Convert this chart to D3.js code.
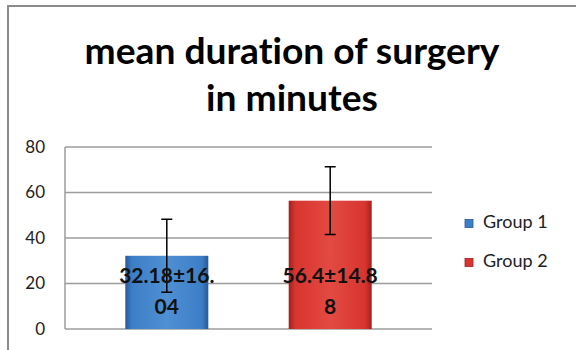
<!DOCTYPE html>
<html>
<head>
<meta charset="utf-8">
<script src="https://cdn.jsdelivr.net/npm/d3@7"></script>
<style>
  body { margin: 0; background: #fff; }
  text { font-family: Lato, "Open Sans", sans-serif; font-variant-ligatures: none; }
</style>
</head>
<body>
<div id="chart"></div>
<script>
const groups = ["Group 1", "Group 2"];
const means = [32.18, 56.4];
const sds = [16.04, 14.88];
const labels = ["32.18±16.04", "56.4±14.88"];
const yTicks = [0, 20, 40, 60, 80];
const titleLines = ["mean duration of surgery", "in minutes"];

let width = 576,
  height = 350,
  margin = ({ top: 147, right: 144, bottom: 21, left: 65 });

const colors = [
  { dark: "#29599a", mid: "#3d7fc6", light: "#4f8fd3" },
  { dark: "#a1211d", mid: "#d8352f", light: "#e24a42" }
];

let x = d3.scaleBand()
  .domain(groups)
  .range([margin.left, width - margin.right])
  .paddingInner(0.492)
  .paddingOuter(0.369);

let y = d3.scaleLinear()
  .domain([0, 80])
  .range([height - margin.bottom, margin.top]);

const svg = d3.select("#chart")
  .append("svg")
  .attr("width", width)
  .attr("height", height)
  .attr("viewBox", [0, 0, width, height]);

// gradients for the bevelled bars
const defs = svg.append("defs");
colors.forEach((c, i) => {
  const g = defs.append("linearGradient")
    .attr("id", "bar" + i)
    .attr("x1", 0).attr("x2", 1).attr("y1", 0).attr("y2", 0);
  g.append("stop").attr("offset", "0%").attr("stop-color", c.dark);
  g.append("stop").attr("offset", "8%").attr("stop-color", c.mid);
  g.append("stop").attr("offset", "50%").attr("stop-color", c.light);
  g.append("stop").attr("offset", "92%").attr("stop-color", c.mid);
  g.append("stop").attr("offset", "100%").attr("stop-color", c.dark);
});

// outer chart frame
svg.append("path")
  .attr("d", `M8,${height}V6H${width}`)
  .attr("fill", "none")
  .attr("stroke", "#8c8c8c")
  .attr("stroke-width", 2);

// title
const title = svg.append("g");
titleLines.forEach((t, i) => {
  title.append("text")
    .attr("x", 292)
    .attr("y", 64 + i * 47)
    .attr("text-anchor", "middle")
    .attr("font-weight", "bold")
    .attr("font-size", 34)
    .attr("fill", "#000")
    .text(t);
});
// fit first title line to the reference width
const t0 = title.select("text").node();
const fs = 34 * 415 / t0.getComputedTextLength();
title.selectAll("text").attr("font-size", fs);

// gridlines
svg.append("g")
  .selectAll("line")
  .data(yTicks)
  .join("line")
  .attr("x1", margin.left)
  .attr("x2", width - margin.right)
  .attr("y1", d => y(d))
  .attr("y2", d => y(d))
  .attr("stroke", "#9c9c9c")
  .attr("stroke-width", 1.5);

svg.append("line")
  .attr("x1", margin.left).attr("x2", margin.left)
  .attr("y1", y(80)).attr("y2", y(0))
  .attr("stroke", "#9c9c9c")
  .attr("stroke-width", 1.5);

// y axis labels
let yAxis = g => g
  .attr("transform", `translate(${margin.left},0)`)
  .call(d3.axisLeft(y).tickValues(yTicks).tickSize(0).tickPadding(20))
  .call(g => g.select(".domain").remove())
  .call(g => g.selectAll("text")
    .attr("font-family", "Lato, sans-serif")
    .attr("font-size", 17)
    .attr("fill", "#222"));

svg.append("g").call(yAxis);

// bars
const bar = svg.selectAll(".bar")
  .data(groups)
  .join("g")
  .attr("class", "bar");

bar.append("rect")
  .attr("x", d => x(d))
  .attr("width", x.bandwidth())
  .attr("y", (d, i) => y(means[i]))
  .attr("height", (d, i) => y(0) - y(means[i]))
  .attr("fill", (d, i) => `url(#bar${i})`);

// error bars
const cx = d => x(d) + x.bandwidth() / 2;
bar.append("path")
  .attr("d", (d, i) => {
    const c = cx(d), t = y(means[i] + sds[i]), b = y(means[i] - sds[i]);
    return `M${c - 5.5},${t}H${c + 5.5}M${c},${t}V${b}M${c - 5.5},${b}H${c + 5.5}`;
  })
  .attr("fill", "none")
  .attr("stroke", "#000")
  .attr("stroke-width", 1.5);

// data labels, wrapped like the original
bar.append("text")
  .attr("text-anchor", "middle")
  .attr("font-weight", "bold")
  .attr("font-size", 21)
  .attr("fill", "#111")
  .selectAll("tspan")
  .data((d, i) => [labels[i].slice(0, 9), labels[i].slice(9)].map(s => ({ s, c: cx(d) })))
  .join("tspan")
  .attr("x", d => d.c)
  .attr("y", (d, j) => 283 + j * 31)
  .text(d => d.s);

// legend
const legend = svg.append("g")
  .selectAll("g")
  .data(groups)
  .join("g")
  .attr("transform", (d, i) => `translate(465,${219.5 + i * 39})`);

legend.append("rect")
  .attr("width", 8)
  .attr("height", 8)
  .attr("fill", (d, i) => colors[i].mid)
  .attr("stroke", (d, i) => colors[i].dark)
  .attr("stroke-width", 0.8);

legend.append("text")
  .attr("x", 18)
  .attr("y", 8)
  .attr("font-size", 18)
  .attr("fill", "#222")
  .text(d => d);
</script>
</body>
</html>
